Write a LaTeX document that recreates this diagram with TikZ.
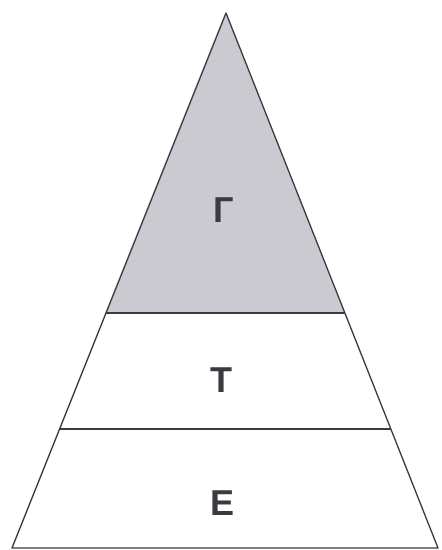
\documentclass[tikz,border=0pt]{standalone}
\usepackage{fontspec}
\setmainfont{Liberation Sans}
\usetikzlibrary{calc}
\definecolor{inkgray}{RGB}{58,58,64}
\definecolor{topfill}{RGB}{202,202,208}
\tikzset{
  edgeline/.style={draw=inkgray, line width=1.3pt, line join=round},
  levellabel/.style={font=\fontsize{36}{36}\selectfont\bfseries, text=inkgray,
                     inner sep=0pt, anchor=center},
}

\begin{document}
\begin{tikzpicture}[x=1pt, y=1pt]
  \useasboundingbox (0,0) rectangle (442,550);

  % Corners of the pyramid
  \coordinate (apex) at (226,537);
  \coordinate (baseL) at (12,2);
  \coordinate (baseR) at (438,2);

  % Cuts between the levels
  \coordinate (cutAL) at ($(apex)!0.5607!(baseL)$);
  \coordinate (cutAR) at ($(apex)!0.5607!(baseR)$);
  \coordinate (cutBL) at ($(apex)!0.7776!(baseL)$);
  \coordinate (cutBR) at ($(apex)!0.7776!(baseR)$);

  % Top level shaded
  \fill[topfill] (apex) -- (cutAL) -- (cutAR) -- cycle;

  \draw[edgeline] (apex) -- (baseL) -- (baseR) -- cycle;
  \draw[edgeline] (cutAL) -- (cutAR);
  \draw[edgeline] (cutBL) -- (cutBR);

  % Labels
  \node[levellabel] (g) at (224,340) {Г};
  \node[levellabel] (t) at (221,170) {Т};
  \node[levellabel] (e) at (223,47) {Е};
\end{tikzpicture}
\end{document}
